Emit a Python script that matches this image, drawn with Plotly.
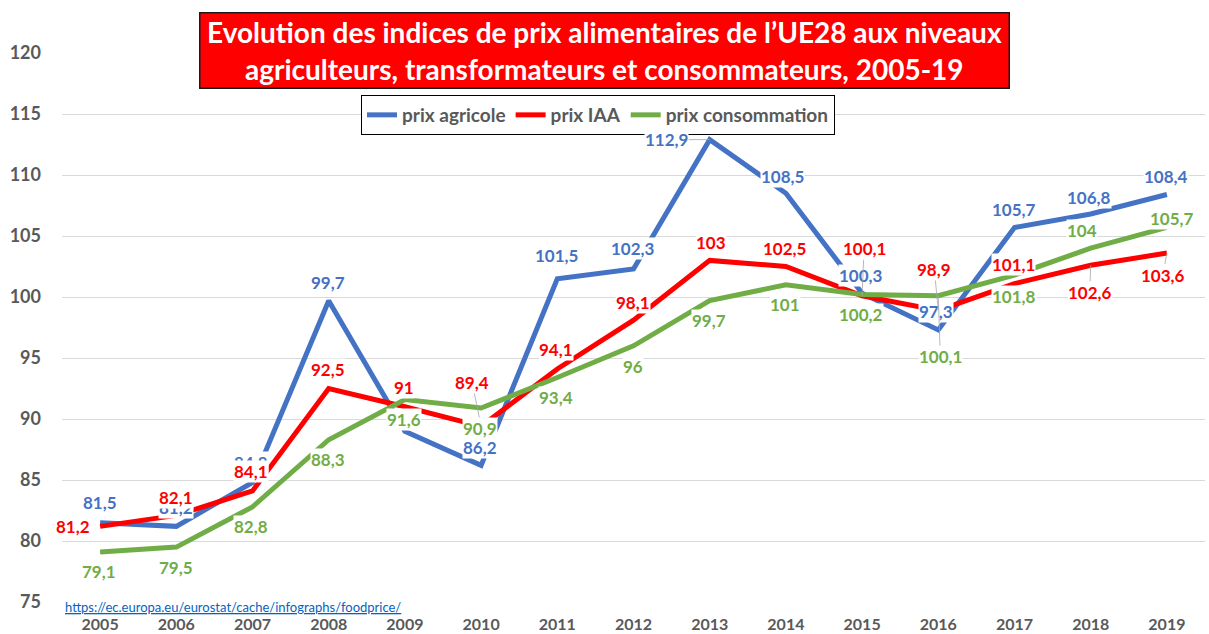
import plotly.graph_objects as go

years = ["2005", "2006", "2007", "2008", "2009", "2010", "2011", "2012",
         "2013", "2014", "2015", "2016", "2017", "2018", "2019"]
prix_agricole = [81.5, 81.2, 84.8, 99.7, 89.0, 86.2, 101.5, 102.3,
                 112.9, 108.5, 100.3, 97.3, 105.7, 106.8, 108.4]
prix_iaa = [81.2, 82.1, 84.1, 92.5, 91.0, 89.4, 94.1, 98.1,
            103.0, 102.5, 100.1, 98.9, 101.1, 102.6, 103.6]
prix_conso = [79.1, 79.5, 82.8, 88.3, 91.6, 90.9, 93.4, 96.0,
              99.7, 101.0, 100.2, 100.1, 101.8, 104.0, 105.7]
y_ticks = [75, 80, 85, 90, 95, 100, 105, 110, 115, 120]

series_names = ["prix agricole", "prix IAA", "prix consommation"]
colors = ["#4472C4", "#FF0000", "#70AD47"]

# label placement (pixel offsets from point), and whether a leader line is drawn
lab_off = [
    [(0, -20), (0, -19), (-2, -20), (-1, -18), None, (-1, -18), (-1, -23), (-1, -20),
     (-43, 0), (-3, -17), (-1, -18), (-2, -18), (-1, -18), (-2, -17), (-1, -18)],
    [(-27, 0), (0, -18), (-2, -19), (-1, -19), (-1, -19), (-9, -44), (-1, -19), (-1, -18),
     (1, -18), (-1, -18), (2, -47), (-4, -41), (-1, -19), (-1, 27), (-4, 22)],
    [(-1, 20), (0, 20), (-2, 20), (-1, 20), (-1, 20), (-1, 20), (-1, 20), (-1, 21),
     (-1, 20), (-1, 20), (-1, 20), (2, 61), (-1, 21), (-9, -18), (5, -9)],
]
leaders = [
    [8],
    [5, 10, 11, 13, 14],
    [11],
]

fig = go.Figure()
for name, vals, col in zip(series_names, [prix_agricole, prix_iaa, prix_conso], colors):
    fig.add_trace(go.Scatter(
        x=years, y=vals, name=name, mode="lines",
        line=dict(color=col, width=5),
    ))

annotations = []
for s, vals in enumerate([prix_agricole, prix_iaa, prix_conso]):
    for i, v in enumerate(vals):
        off = lab_off[s][i]
        if off is None:
            continue
        txt = (f"{v:.1f}".rstrip("0").rstrip(".")).replace(".", ",")
        lead = i in leaders[s]
        annotations.append(dict(
            x=i, y=v, xref="x", yref="y",
            text=txt, showarrow=True, ax=off[0], ay=off[1],
            axref="pixel", ayref="pixel",
            arrowhead=0, arrowwidth=0.8, standoff=0,
            arrowcolor="#A6A6A6" if lead else "rgba(255,255,255,0)",
            font=dict(family="Lato", size=17, color=colors[s], weight="bold"),
            bgcolor="white", borderpad=0,
        ))

annotations.append(dict(
    x=0.4746, y=1.0046, xref="paper", yref="paper",
    xanchor="center", yanchor="middle", showarrow=False,
    text="Evolution des indices de prix alimentaires de l\u2019UE28 aux niveaux<br>"
         "agriculteurs, transformateurs et consommateurs, 2005-19",
    font=dict(family="Lato", size=28, color="white", weight="bold"),
    bgcolor="#FF0000", bordercolor="#1a1a1a", borderwidth=1.5,
    width=806, height=72, align="center",
))
annotations.append(dict(
    x=0.001, y=-0.009, xref="paper", yref="paper",
    xanchor="left", yanchor="middle", showarrow=False,
    text="<u>https://ec.europa.eu/eurostat/cache/infographs/foodprice/</u>",
    font=dict(family="Lato", size=13, color="#0563C1"),
))

fig.update_layout(
    width=1209, height=634,
    margin=dict(l=62, r=4, t=53, b=32, autoexpand=False),
    paper_bgcolor="white", plot_bgcolor="white",
    showlegend=True,
    legend=dict(
        orientation="h", x=0.2616, y=0.9235, xanchor="left", yanchor="top",
        bordercolor="black", borderwidth=1, bgcolor="white",
        font=dict(family="Lato", size=19, color="#595959", weight="bold"),
        itemwidth=30, tracegroupgap=0,
    ),
    annotations=annotations,
    font=dict(family="Lato"),
)
fig.update_xaxes(
    type="category", range=[-0.5, 14.5], showgrid=False, showline=False,
    ticks="", tickfont=dict(family="Lato", size=16, color="#595959", weight="bold"),
    ticklabelstandoff=11, automargin=False,
)
fig.update_yaxes(
    range=[75, 120], tickvals=y_ticks, showgrid=True, gridcolor="#D9D9D9",
    gridwidth=1, zeroline=False, showline=False, ticks="",
    tickfont=dict(family="Lato", size=18, color="#595959", weight="bold"),
    ticklabelstandoff=20, automargin=False,
)

fig.write_html(
    "out.html",
    config={"displayModeBar": False},
    post_script="document.body.style.margin='0';document.body.style.padding='0';",
)
